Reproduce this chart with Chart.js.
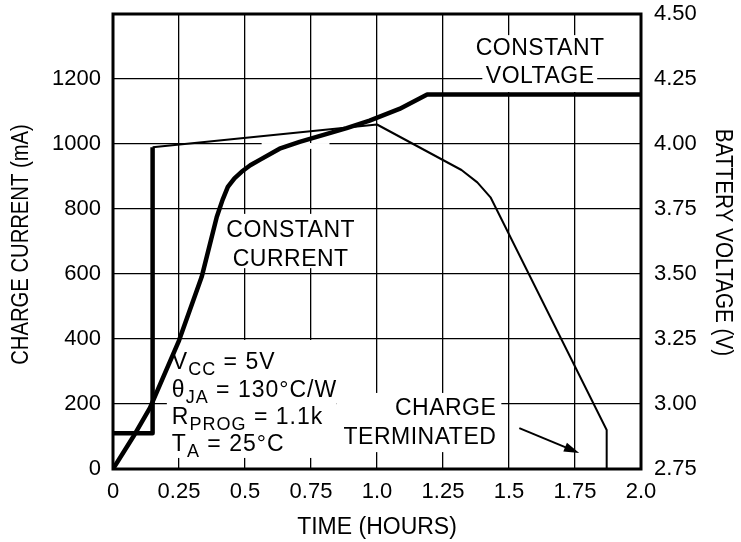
<!DOCTYPE html>
<html>
<head>
<meta charset="utf-8">
<script src="https://cdn.jsdelivr.net/npm/chart.js@4.4.0/dist/chart.umd.min.js"></script>
<style>
  html, body { margin: 0; padding: 0; background: #fff; }
</style>
</head>
<body>
<canvas id="chargeChart" width="741" height="542"></canvas>
<script>
// charge current (left axis, mA)
const timeCurrent = [0, 0.15, 0.15, 1.0, 1.32, 1.38, 1.43, 1.87, 1.87];
const currentMa = [110, 110, 990, 1060, 920, 882, 836, 120, 0];

// battery voltage (right axis, V)
const timeVoltage = [0, 0.076, 0.14, 0.25, 0.336, 0.393, 0.415, 0.435, 0.46, 0.487, 0.52, 0.556, 0.631, 0.707, 0.885, 0.972, 1.085, 1.19, 2.0];
const batteryVolts = [2.75, 2.873, 2.985, 3.244, 3.489, 3.719, 3.785, 3.835, 3.868, 3.893, 3.918, 3.939, 3.982, 4.008, 4.061, 4.09, 4.135, 4.19, 4.19];

const timeTicks = [0, 0.25, 0.5, 0.75, 1.0, 1.25, 1.5, 1.75, 2.0];
const timeLabels = ["0", "0.25", "0.5", "0.75", "1.0", "1.25", "1.5", "1.75", "2.0"];
const currentTicks = [0, 200, 400, 600, 800, 1000, 1200, 1400];
const currentLabels = ["0", "200", "400", "600", "800", "1000", "1200", ""];
const voltTicks = [2.75, 3.0, 3.25, 3.5, 3.75, 4.0, 4.25, 4.5];
const voltLabels = ["2.75", "3.00", "3.25", "3.50", "3.75", "4.00", "4.25", "4.50"];

const fontFamily = "'Liberation Sans', Arial, Helvetica, sans-serif";
const tickFont = { family: fontFamily, size: 22 };

// white boxes behind the notes: [h0, h1, mA top, mA bottom]
const noteBoxes = [
    [1.399, 1.834, 1335, 1160],
    [0.435, 0.919, 785, 618],
    [0.563, 0.820, 1003, 985],
    [0.204, 0.847, 397, 34],
    [0.847, 1.471, 234, 52],
];

const conditions = [
    [["V", 0], ["CC", 1], [" = 5V", 0]],
    [["\u03B8", 0], ["JA", 1], [" = 130\u00B0C/W", 0]],
    [["R", 0], ["PROG", 1], [" = 1.1k", 0]],
    [["T", 0], ["A", 1], [" = 25\u00B0C", 0]],
];
const conditionRows = [308, 222, 138, 55];

const drawParts = (ctx, parts, px, py) => {
    let cx = px;
    parts.forEach(([txt, sub]) => {
        ctx.font = sub ? `18px ${fontFamily}` : `23px ${fontFamily}`;
        ctx.fillText(txt, cx, sub ? py + 6 : py);
        cx += ctx.measureText(txt).width;
    });
};

// no extra room for the end labels, plot box is fixed by hand
const noPad = (s) => {
    s.paddingTop = 0;
    s.paddingBottom = 0;
    s.paddingLeft = 0;
    s.paddingRight = 0;
};

const notes = {
    id: "notes",
    beforeDatasetsDraw(chart) {
        const { ctx, scales: { x, y } } = chart;
        ctx.save();
        ctx.fillStyle = "#fff";
        noteBoxes.forEach((b) => {
            const x0 = x.getPixelForValue(b[0]);
            const x1 = x.getPixelForValue(b[1]);
            const y0 = y.getPixelForValue(b[2]);
            const y1 = y.getPixelForValue(b[3]);
            ctx.fillRect(x0, y0, x1 - x0, y1 - y0);
        });
        ctx.restore();
    },
    afterDatasetsDraw(chart) {
        const { ctx, chartArea: a, scales: { x, y } } = chart;
        ctx.save();
        ctx.strokeStyle = "#000";
        ctx.lineWidth = 3;
        ctx.strokeRect(a.left, a.top, a.right - a.left, a.bottom - a.top);

        ctx.fillStyle = "#000";
        ctx.letterSpacing = "0.5px";
        ctx.font = `23px ${fontFamily}`;
        ctx.textBaseline = "middle";
        ctx.textAlign = "center";
        ctx.fillText("CONSTANT", x.getPixelForValue(1.618), y.getPixelForValue(1294));
        ctx.fillText("VOLTAGE", x.getPixelForValue(1.618), y.getPixelForValue(1206));
        ctx.fillText("CONSTANT", x.getPixelForValue(0.673), y.getPixelForValue(732));
        ctx.fillText("CURRENT", x.getPixelForValue(0.673), y.getPixelForValue(643));

        ctx.textAlign = "right";
        ctx.fillText("CHARGE", x.getPixelForValue(1.452), y.getPixelForValue(186));
        ctx.fillText("TERMINATED", x.getPixelForValue(1.452), y.getPixelForValue(97));

        ctx.letterSpacing = "1px";
        ctx.textAlign = "left";
        ctx.textBaseline = "alphabetic";
        conditions.forEach((parts, i) => {
            drawParts(ctx, parts, x.getPixelForValue(0.223), y.getPixelForValue(conditionRows[i]));
        });

        // arrow to the termination point
        const tx = x.getPixelForValue(1.539), ty = y.getPixelForValue(126);
        const hx = x.getPixelForValue(1.766), hy = y.getPixelForValue(49);
        const ang = Math.atan2(hy - ty, hx - tx);
        ctx.lineWidth = 2;
        ctx.beginPath();
        ctx.moveTo(tx, ty);
        ctx.lineTo(hx - 12 * Math.cos(ang), hy - 12 * Math.sin(ang));
        ctx.stroke();
        ctx.beginPath();
        ctx.moveTo(hx, hy);
        ctx.lineTo(hx - 16 * Math.cos(ang - 0.3), hy - 16 * Math.sin(ang - 0.3));
        ctx.lineTo(hx - 16 * Math.cos(ang + 0.3), hy - 16 * Math.sin(ang + 0.3));
        ctx.closePath();
        ctx.fill();
        ctx.restore();
    },
    afterDraw(chart) {
        const { ctx, chartArea: a } = chart;
        const mid = (a.top + a.bottom) / 2;
        ctx.save();
        ctx.fillStyle = "#000";
        ctx.font = `23px ${fontFamily}`;
        ctx.textAlign = "center";
        ctx.textBaseline = "middle";
        ctx.fillText("TIME (HOURS)", (a.left + a.right) / 2, 528);

        ctx.save();
        ctx.translate(22, mid + 3);
        ctx.rotate(-Math.PI / 2);
        ctx.scale(0.88, 1);
        ctx.fillText("CHARGE CURRENT (mA)", 0, 0);
        ctx.restore();

        ctx.save();
        ctx.translate(722, mid + 1);
        ctx.rotate(Math.PI / 2);
        ctx.scale(0.9, 1);
        ctx.fillText("BATTERY VOLTAGE (V)", 0, 0);
        ctx.restore();
        ctx.restore();
    },
};

const ctx = document.getElementById("chargeChart").getContext("2d");
const chargeChart = new Chart(ctx, {
    type: "line",
    data: {
        datasets: [
            {
                label: "Charge current",
                data: timeCurrent.map((t, i) => ({ x: t, y: currentMa[i] })),
                yAxisID: "y",
                borderColor: "#000",
                borderWidth: 2,
                borderJoinStyle: "round",
                pointRadius: 0,
                tension: 0,
                segment: {
                    borderWidth: (c) => (c.p0DataIndex < 2 ? 4.5 : 2),
                },
            },
            {
                label: "Battery voltage",
                data: timeVoltage.map((t, i) => ({ x: t, y: batteryVolts[i] })),
                yAxisID: "y2",
                borderColor: "#000",
                borderWidth: 4.5,
                borderJoinStyle: "round",
                pointRadius: 0,
                tension: 0,
            },
        ],
    },
    options: {
        responsive: false,
        animation: false,
        layout: { padding: { top: 14, left: 0, right: 0, bottom: 0 } },
        plugins: {
            legend: { display: false },
            tooltip: { enabled: false },
        },
        scales: {
            x: {
                type: "linear",
                min: 0,
                max: 2,
                afterBuildTicks: (s) => {
                    s.ticks = timeTicks.map((v) => ({ value: v }));
                },
                afterFit: (s) => {
                    s.height = 73;
                    noPad(s);
                },
                ticks: {
                    callback: (v, i) => timeLabels[i],
                    font: tickFont,
                    color: "#000",
                    padding: 10,
                    maxRotation: 0,
                    autoSkip: false,
                },
                grid: { color: "#000", lineWidth: 1.3, drawTicks: false },
                border: { display: false },
            },
            y: {
                position: "left",
                min: 0,
                max: 1400,
                afterBuildTicks: (s) => {
                    s.ticks = currentTicks.map((v) => ({ value: v }));
                },
                afterFit: (s) => {
                    s.width = 113;
                    noPad(s);
                },
                ticks: {
                    callback: (v, i) => currentLabels[i],
                    font: tickFont,
                    color: "#000",
                    padding: 12,
                },
                grid: { color: "#000", lineWidth: 1.3, drawTicks: false },
                border: { display: false },
            },
            y2: {
                position: "right",
                min: 2.75,
                max: 4.5,
                afterBuildTicks: (s) => {
                    s.ticks = voltTicks.map((v) => ({ value: v }));
                },
                afterFit: (s) => {
                    s.width = 100;
                    noPad(s);
                },
                ticks: {
                    callback: (v, i) => voltLabels[i],
                    font: tickFont,
                    color: "#000",
                    padding: 13,
                },
                grid: { display: false, drawTicks: false },
                border: { display: false },
            },
        },
    },
    plugins: [notes],
});
</script>
</body>
</html>
